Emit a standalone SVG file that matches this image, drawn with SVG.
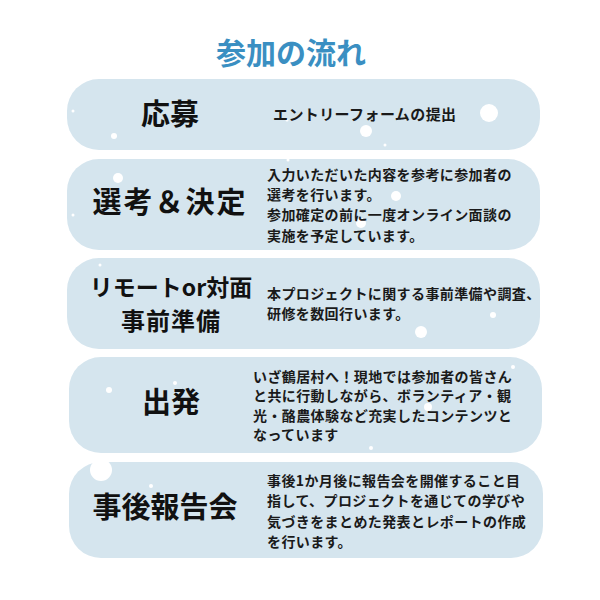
<svg xmlns="http://www.w3.org/2000/svg" width="600" height="600" viewBox="0 0 600 600">
<style>
.box{fill:#d5e5ee}
.snow{fill:#ffffff}
.title{font-family:"Noto Sans CJK JP","Noto Sans",sans-serif;font-weight:700;font-size:30px;fill:#3a8fc2}
.head{font-family:"Noto Sans CJK JP","Noto Sans",sans-serif;font-weight:700;font-size:29px;fill:#111111}
.desc{font-family:"Noto Sans CJK JP","Noto Sans",sans-serif;font-weight:700;font-size:14px;fill:#1a1a1a;letter-spacing:0.4px}
</style>
<rect width="600" height="600" fill="#ffffff"/>
<text class="title" x="291" y="64" text-anchor="middle">参加の流れ</text>

<g id="step1">
<rect class="box" x="67" y="79" width="473" height="71" rx="32"/>
<circle class="snow" cx="73" cy="111" r="1.5"/>
<circle class="snow" cx="114" cy="136" r="3"/>
<circle class="snow" cx="489" cy="113" r="9"/>
<circle class="snow" cx="366" cy="131" r="6"/>
<circle class="snow" cx="287" cy="120" r="1.5"/>
<circle class="snow" cx="385" cy="145" r="1.5"/>
<text class="head" x="170" y="125" text-anchor="middle">応募</text>
<text class="desc" x="273" y="120" style="font-size:15px">エントリーフォームの提出</text>
</g>

<g id="step2">
<rect class="box" x="67" y="159" width="473" height="91" rx="32"/>
<circle class="snow" cx="118" cy="178" r="5"/>
<circle class="snow" cx="73" cy="215" r="1.5"/>
<circle class="snow" cx="288" cy="160" r="1.5"/>
<circle class="snow" cx="396" cy="196" r="5"/>
<circle class="snow" cx="361" cy="223" r="5"/>
<text class="head" x="170" y="213" text-anchor="middle" style="letter-spacing:2px">選考＆決定</text>
<text class="desc" x="267" y="180">入力いただいた内容を参考に参加者の</text>
<text class="desc" x="267" y="200">選考を行います。</text>
<text class="desc" x="267" y="220">参加確定の前に一度オンライン面談の</text>
<text class="desc" x="267" y="241">実施を予定しています。</text>
</g>

<g id="step3">
<rect class="box" x="67" y="258" width="473" height="91" rx="32"/>
<circle class="snow" cx="100" cy="265" r="1.5"/>
<circle class="snow" cx="421" cy="332" r="6"/>
<circle class="snow" cx="493" cy="315" r="3"/>
<text class="head" x="171" y="296" text-anchor="middle" style="font-size:23px">リモートor対面</text>
<text class="head" x="171" y="330" text-anchor="middle" style="font-size:24px;letter-spacing:1px">事前準備</text>
<text class="desc" x="267" y="299">本プロジェクトに関する事前準備や調査、</text>
<text class="desc" x="267" y="319">研修を数回行います。</text>
</g>

<g id="step4">
<rect class="box" x="69" y="357" width="473" height="96" rx="32"/>
<circle class="snow" cx="428" cy="407" r="4"/>
<circle class="snow" cx="513" cy="367" r="2"/>
<circle class="snow" cx="109" cy="390" r="3"/>
<circle class="snow" cx="175" cy="383" r="2"/>
<circle class="snow" cx="371" cy="448" r="2"/>
<text class="head" x="171" y="413" text-anchor="middle">出発</text>
<text class="desc" x="253" y="382">いざ鶴居村へ！現地では参加者の皆さん</text>
<text class="desc" x="253" y="401">と共に行動しながら、ボランティア・観</text>
<text class="desc" x="253" y="421">光・酪農体験など充実したコンテンツと</text>
<text class="desc" x="253" y="440">なっています</text>
</g>

<g id="step5">
<rect class="box" x="69" y="462" width="474" height="96" rx="32"/>
<circle class="snow" cx="101" cy="470" r="11"/>
<circle class="snow" cx="151" cy="486" r="2"/>
<text class="head" x="165" y="518" text-anchor="middle">事後報告会</text>
<text class="desc" x="267" y="486">事後1か月後に報告会を開催すること目</text>
<text class="desc" x="267" y="506">指して、プロジェクトを通じての学びや</text>
<text class="desc" x="267" y="527">気づきをまとめた発表とレポートの作成</text>
<text class="desc" x="267" y="547">を行います。</text>
</g>

<g id="connectors"></g>
</svg>
